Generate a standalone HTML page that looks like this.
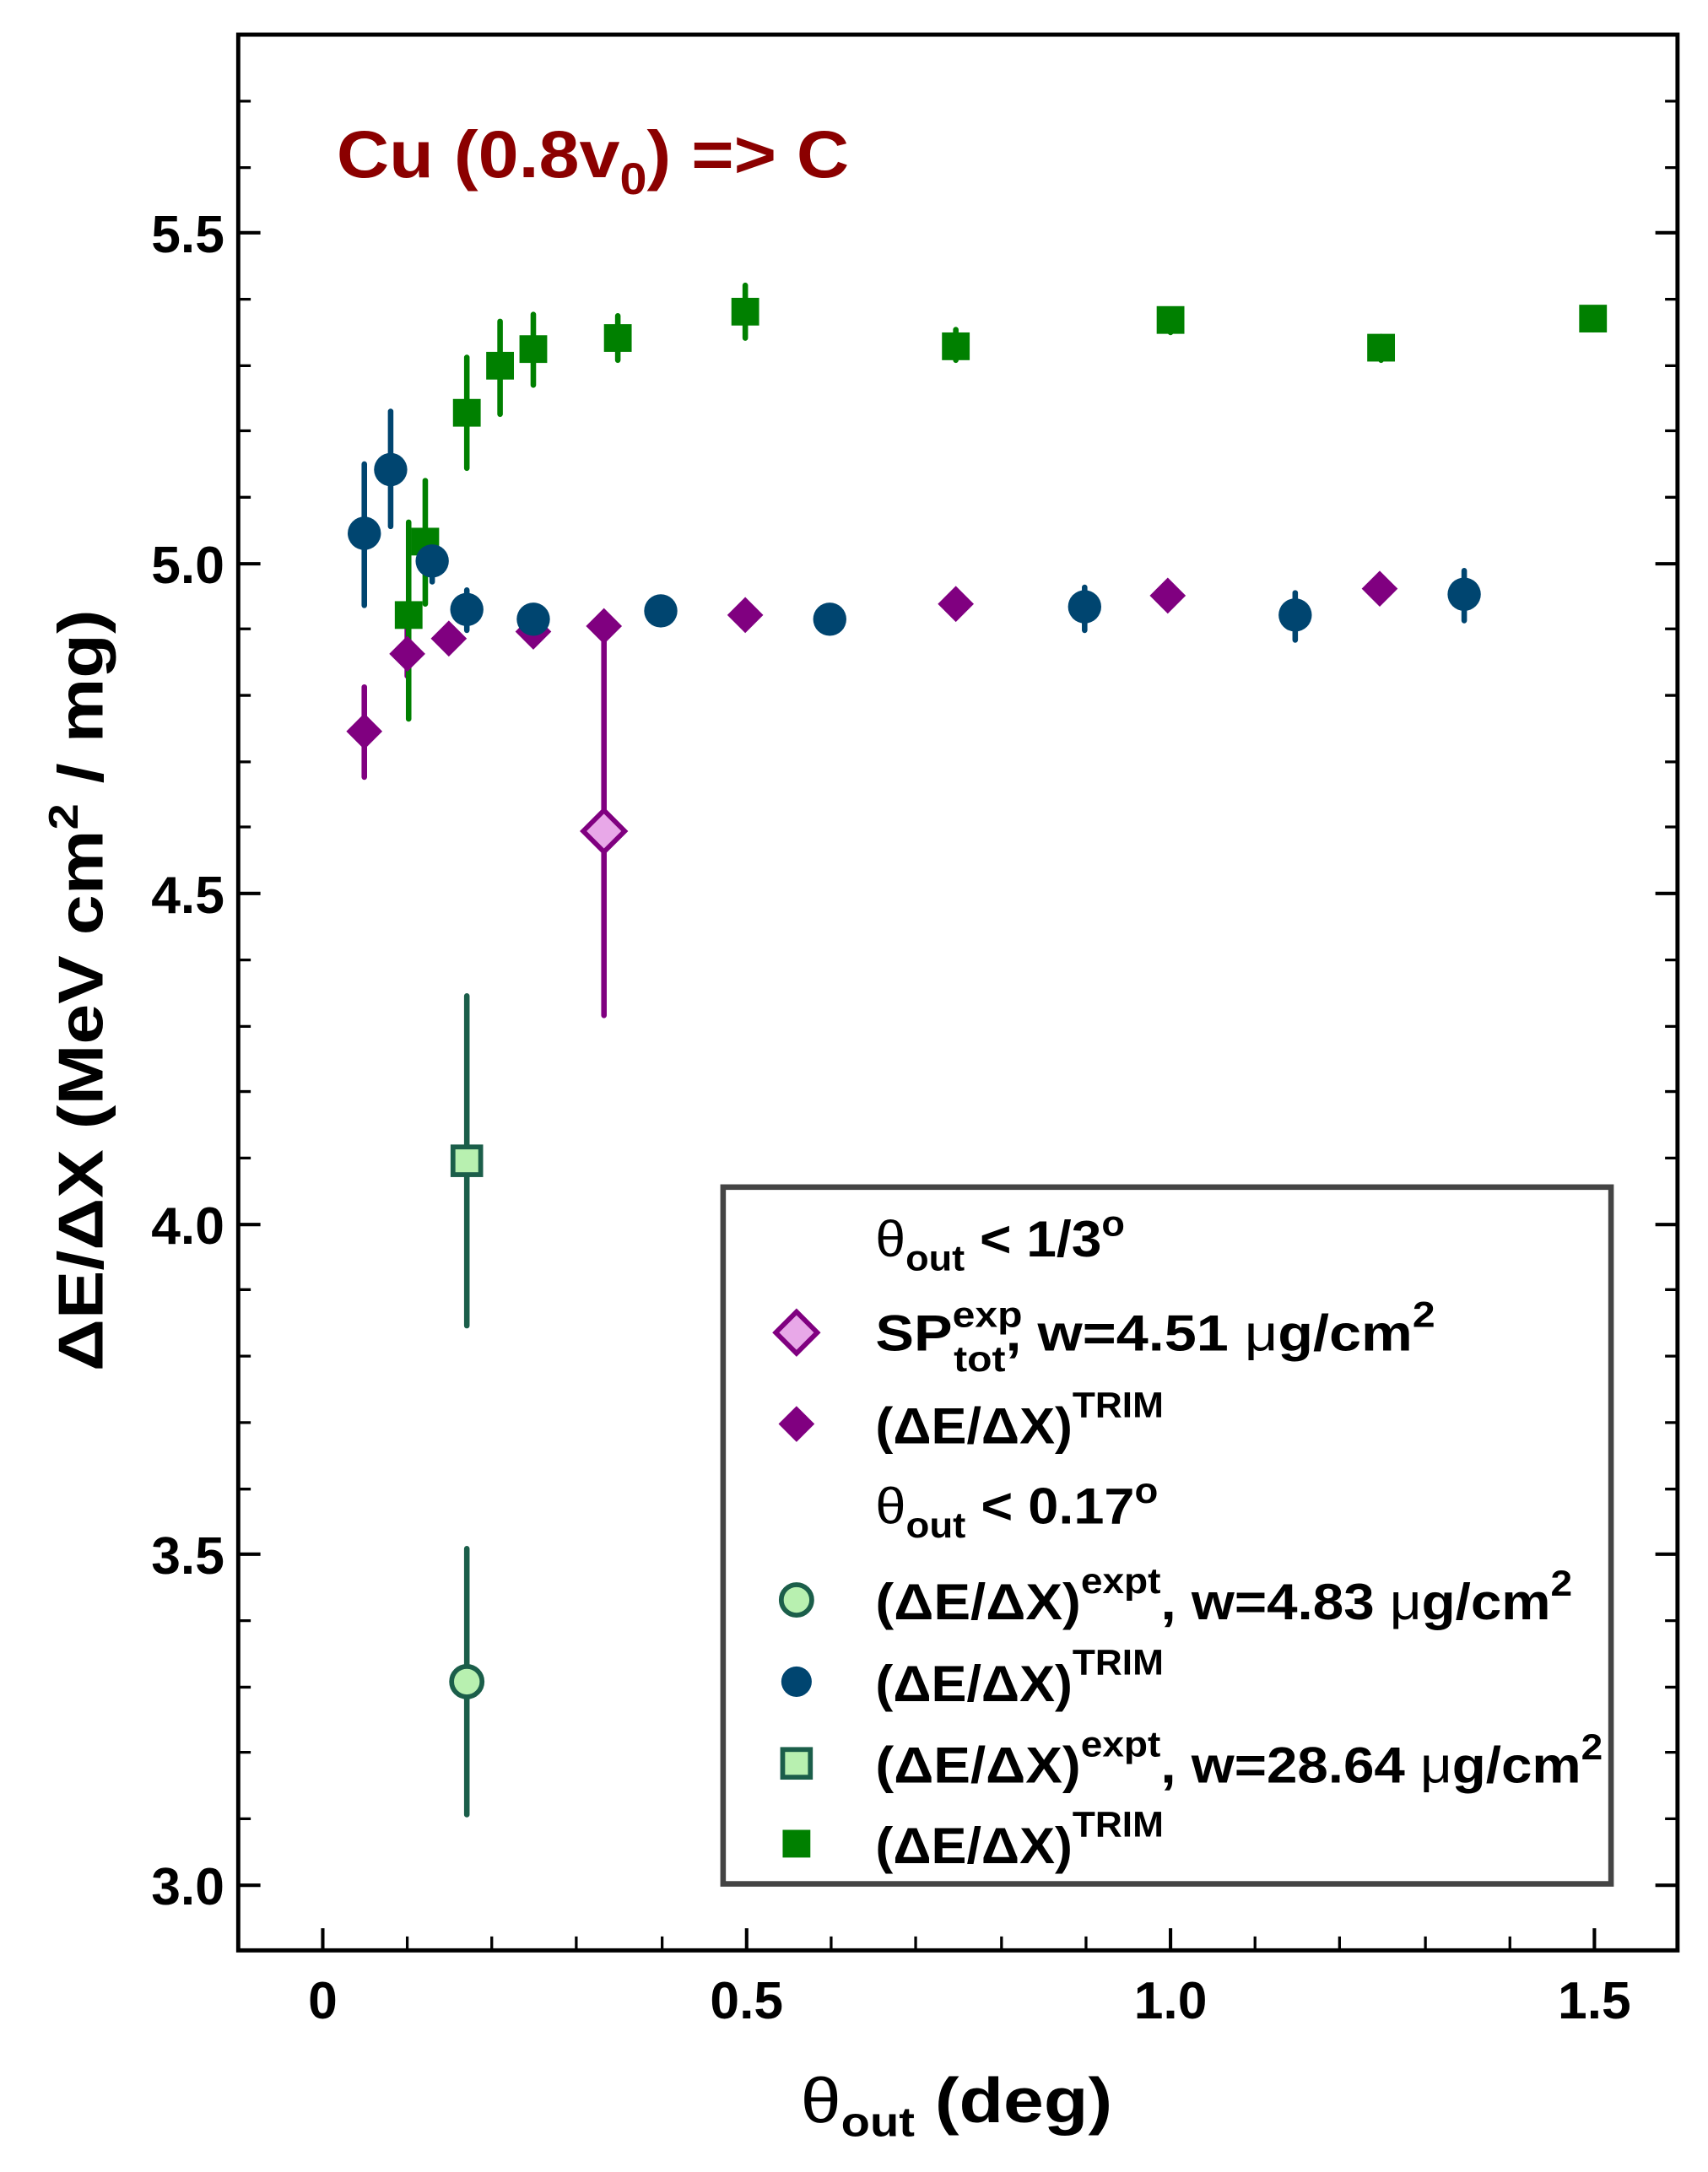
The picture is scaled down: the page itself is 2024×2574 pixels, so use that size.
<!DOCTYPE html>
<html><head><meta charset="utf-8"><style>html,body{margin:0;padding:0;background:#fff}svg{display:block}text{font-family:"Liberation Sans",Arial,sans-serif;font-weight:bold}</style></head>
<body>
<svg width="2024" height="2574" viewBox="0 0 1233 1568" preserveAspectRatio="none" xmlns="http://www.w3.org/2000/svg">
<rect width="1240" height="1577" fill="#fff"/>
<rect x="172" y="25" width="1039" height="1383" fill="none" stroke="#000" stroke-width="3"/>
<g stroke="#000" stroke-width="2.5">
<path d="M172,168h16M1211,168h-16M172,407h16M1211,407h-16M172,645h16M1211,645h-16M172,884h16M1211,884h-16M172,1122h16M1211,1122h-16M172,1361h16M1211,1361h-16"/>
<path stroke-width="2" d="M172,73h9M1211,73h-9M172,121h9M1211,121h-9M172,216h9M1211,216h-9M172,264h9M1211,264h-9M172,311h9M1211,311h-9M172,359h9M1211,359h-9M172,454h9M1211,454h-9M172,502h9M1211,502h-9M172,550h9M1211,550h-9M172,597h9M1211,597h-9M172,693h9M1211,693h-9M172,741h9M1211,741h-9M172,788h9M1211,788h-9M172,836h9M1211,836h-9M172,931h9M1211,931h-9M172,979h9M1211,979h-9M172,1027h9M1211,1027h-9M172,1075h9M1211,1075h-9M172,1170h9M1211,1170h-9M172,1218h9M1211,1218h-9M172,1265h9M1211,1265h-9M172,1313h9M1211,1313h-9"/>
<path d="M233,1408v-16M539,1408v-16M845,1408v-16M1151,1408v-16"/>
<path stroke-width="2" d="M294,1408v-10M355,1408v-10M416,1408v-10M478,1408v-10M600,1408v-10M661,1408v-10M723,1408v-10M784,1408v-10M906,1408v-10M967,1408v-10M1029,1408v-10M1090,1408v-10"/>
</g>
<g font-size="38" text-anchor="end">
<text x="162" y="182">5.5</text><text x="162" y="421">5.0</text><text x="162" y="659">4.5</text><text x="162" y="898">4.0</text><text x="162" y="1136">3.5</text><text x="162" y="1375">3.0</text>
</g>
<g font-size="38" text-anchor="middle">
<text x="233" y="1457">0</text><text x="539" y="1457">0.5</text><text x="845" y="1457">1.0</text><text x="1151" y="1457">1.5</text>
</g>
<text x="578" y="1532" font-size="46" textLength="225" lengthAdjust="spacingAndGlyphs"><tspan font-weight="normal">θ</tspan><tspan font-size="30" dy="10">out</tspan><tspan dy="-10"> (deg)</tspan></text>
<text transform="translate(74,990) rotate(-90)" font-size="46" textLength="550" lengthAdjust="spacingAndGlyphs">ΔE/ΔX (MeV cm<tspan font-size="30" dy="-18">2</tspan><tspan dy="18"> / mg)</tspan></text>
<text x="243" y="128" font-size="48" fill="#8b0000" textLength="370" lengthAdjust="spacingAndGlyphs">Cu (0.8v<tspan font-size="32" dy="12">0</tspan><tspan dy="-12">) =&gt; C</tspan></text>

<g stroke-width="4" stroke-linecap="round">
<g stroke="#004570"><path d="M263,335V437M282,297V380M312,392V420M337,426V455M385,440V455M477,434V448M599,439V456M783,424V455M935,428V462M1057,412V448"/></g>
<g stroke="#800080"><path d="M263,496V561M294,448V488M324,454V468M385,449V464M436,446V460M538,437V452M690,429V444M843,423V438M996,418V433M436,452V733"/></g>
<g stroke="#008000"><path d="M295,377V519M307,347V436M337,258V338M361,232V299M385,227V278M446,228V260M538,206V244M690,238V260M845,224V240M997,243V260M1150,224V238"/></g>
<g stroke="#1b5e4a"><path d="M337,719V957M337,1118V1310"/></g>
</g>
<g fill="#008000">
<rect x="285" y="434" width="20" height="20"/><rect x="297" y="381" width="20" height="20"/><rect x="327" y="288" width="20" height="20"/><rect x="351" y="254" width="20" height="20"/><rect x="375" y="242" width="20" height="20"/><rect x="436" y="234" width="20" height="20"/><rect x="528" y="215" width="20" height="20"/><rect x="680" y="240" width="20" height="20"/><rect x="835" y="221" width="20" height="20"/><rect x="987" y="241" width="20" height="20"/><rect x="1140" y="220" width="20" height="20"/>
</g>
<g fill="#800080">
<path d="M263,515l13,13l-13,13l-13-13z"/><path d="M294,459l13,13l-13,13l-13-13z"/><path d="M324,448l13,13l-13,13l-13-13z"/><path d="M385,443l13,13l-13,13l-13-13z"/><path d="M436,439l13,13l-13,13l-13-13z"/><path d="M538,431l13,13l-13,13l-13-13z"/><path d="M690,423l13,13l-13,13l-13-13z"/><path d="M843,417l13,13l-13,13l-13-13z"/><path d="M996,412l13,13l-13,13l-13-13z"/>
</g>
<g fill="#004570">
<circle cx="263" cy="385" r="12"/><circle cx="282" cy="339" r="12"/><circle cx="312" cy="405" r="12"/><circle cx="337" cy="440" r="12"/><circle cx="385" cy="447" r="12"/><circle cx="477" cy="441" r="12"/><circle cx="599" cy="447" r="12"/><circle cx="783" cy="438" r="12"/><circle cx="935" cy="444" r="12"/><circle cx="1057" cy="429" r="12"/>
</g>
<path d="M436,585l15,15l-15,15l-15-15z" fill="#e8a8e8" stroke="#800080" stroke-width="3.5"/>
<rect x="327" y="828" width="20" height="20" fill="#b8f0b0" stroke="#1b5e4a" stroke-width="3.5"/>
<circle cx="337" cy="1214" r="11" fill="#b8f0b0" stroke="#1b5e4a" stroke-width="3.5"/>

<rect x="522" y="857" width="641" height="503" fill="#fff" stroke="#444" stroke-width="4"/>
<g font-size="37">
<text x="632" y="907" textLength="180" lengthAdjust="spacingAndGlyphs"><tspan font-weight="normal">θ</tspan><tspan font-size="26" dy="10">out</tspan><tspan dy="-10"> &lt; 1/3</tspan><tspan font-size="26" dy="-15">o</tspan></text>
<path d="M575,947l15,15l-15,15l-15-15z" fill="#e8a8e8" stroke="#800080" stroke-width="3.5"/>
<text x="632" y="975" textLength="404" lengthAdjust="spacingAndGlyphs">SP<tspan font-size="26" dy="-17">exp</tspan><tspan font-size="26" dx="-44" dy="32">tot</tspan><tspan dy="-15">, w=4.51 </tspan><tspan font-weight="normal">μ</tspan>g/cm<tspan font-size="26" dy="-17">2</tspan></text>
<path d="M575,1015l13,13l-13,13l-13-13z" fill="#800080"/>
<text x="632" y="1042" textLength="208" lengthAdjust="spacingAndGlyphs">(ΔE/ΔX)<tspan font-size="26" dy="-19">TRIM</tspan></text>
<text x="632" y="1100" textLength="204" lengthAdjust="spacingAndGlyphs"><tspan font-weight="normal">θ</tspan><tspan font-size="26" dy="10">out</tspan><tspan dy="-10"> &lt; 0.17</tspan><tspan font-size="26" dy="-15">o</tspan></text>
<circle cx="575" cy="1155" r="11" fill="#b8f0b0" stroke="#1b5e4a" stroke-width="3.5"/>
<text x="632" y="1169" textLength="503" lengthAdjust="spacingAndGlyphs">(ΔE/ΔX)<tspan font-size="26" dy="-19">expt</tspan><tspan dy="19">, w=4.83 </tspan><tspan font-weight="normal">μ</tspan>g/cm<tspan font-size="26" dy="-17">2</tspan></text>
<circle cx="575" cy="1214" r="11" fill="#004570"/>
<text x="632" y="1228" textLength="208" lengthAdjust="spacingAndGlyphs">(ΔE/ΔX)<tspan font-size="26" dy="-19">TRIM</tspan></text>
<rect x="565" y="1263" width="20" height="20" fill="#b8f0b0" stroke="#1b5e4a" stroke-width="3.5"/>
<text x="632" y="1287" textLength="525" lengthAdjust="spacingAndGlyphs">(ΔE/ΔX)<tspan font-size="26" dy="-19">expt</tspan><tspan dy="19">, w=28.64 </tspan><tspan font-weight="normal">μ</tspan>g/cm<tspan font-size="26" dy="-17">2</tspan></text>
<rect x="565" y="1321" width="20" height="20" fill="#008000"/>
<text x="632" y="1345" textLength="208" lengthAdjust="spacingAndGlyphs">(ΔE/ΔX)<tspan font-size="26" dy="-19">TRIM</tspan></text>
</g>
</svg>
</body></html>
